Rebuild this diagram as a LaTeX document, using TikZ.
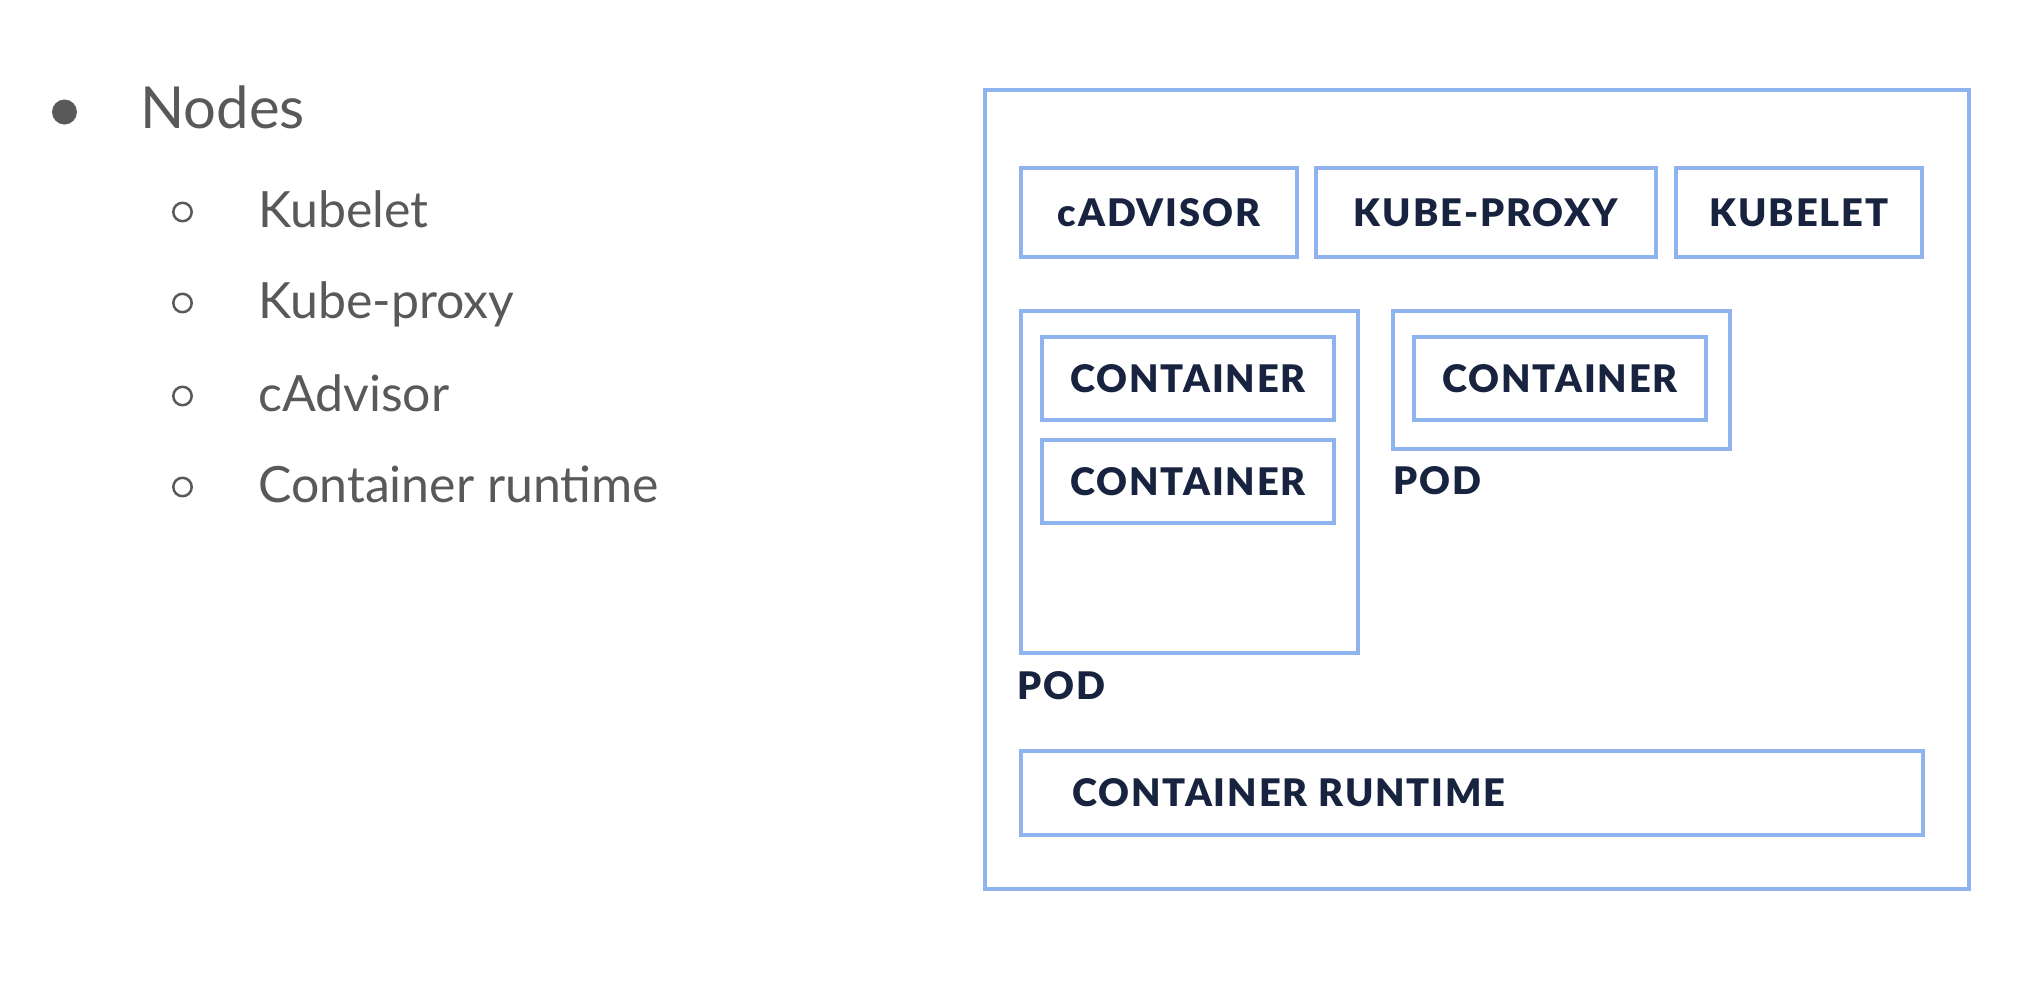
\documentclass[tikz,border=0pt]{standalone}
\usepackage{fontspec}
\setmainfont{Lato}
\newfontfamily\boxfont[LetterSpace=5]{Lato Black}
\definecolor{kblue}{HTML}{8FB3EE}
\definecolor{knavy}{HTML}{17233F}
\definecolor{kgray}{HTML}{595959}
\begin{document}
\begin{tikzpicture}[x=1pt,y=-1pt,
  kbox/.style={draw=kblue, line width=4pt, inner sep=0pt, anchor=north west,
    font=\boxfont\fontsize{38}{42}\selectfont, text=knavy},
  klabel/.style={inner sep=0pt, anchor=west,
    font=\boxfont\fontsize{38}{42}\selectfont, text=knavy},
  item/.style={inner sep=0pt, anchor=base west, text=kgray, font=\fontsize{50}{60}\selectfont},
  hollow/.style={draw=kgray, line width=2.5pt},
]
\useasboundingbox (0,0) rectangle (2018,980);
% left list
\fill[kgray] (64.5,112) circle (12.5);
\node[item, font=\fontsize{58}{68}\selectfont] (nodes) at (140,128) {Nodes};
\draw[hollow] (182.5,212) circle (9.2);
\node[item] (i1) at (258,227) {Kubelet};
\draw[hollow] (182.5,303) circle (9.2);
\node[item] (i2) at (258,318) {Kube-proxy};
\draw[hollow] (182.5,396) circle (9.2);
\node[item] (i3) at (258,411) {cAdvisor};
\draw[hollow] (182.5,487) circle (9.2);
\node[item] (i4) at (258,502) {Container runtime};
% diagram
\node[kbox, minimum width=984pt, minimum height=799pt] (outer) at (983,88) {};
\node[kbox, minimum width=276pt, minimum height=89pt] (cadv) at (1019,166) {cADVISOR};
\node[kbox, minimum width=340pt, minimum height=89pt] (kproxy) at (1314,166) {KUBE-PROXY};
\node[kbox, minimum width=246pt, minimum height=89pt] (kubelet) at (1674,166) {KUBELET};
\node[kbox, minimum width=337pt, minimum height=342pt] (pod1) at (1019,309) {};
\node[kbox, minimum width=292pt, minimum height=83pt] (c1) at (1040,335) {CONTAINER};
\node[kbox, minimum width=292pt, minimum height=83pt] (c2) at (1040,438) {CONTAINER};
\node[kbox, minimum width=337pt, minimum height=138pt] (pod2) at (1391,309) {};
\node[kbox, minimum width=292pt, minimum height=83pt] (c3) at (1412,335) {CONTAINER};
\node[klabel] (pod2lab) at (1393,481) {POD};
\node[klabel] (pod1lab) at (1017,686) {POD};
\node[kbox, minimum width=902pt, minimum height=84pt] (runtime) at (1019,749) {};
\node[klabel] (rtlab) at ([xshift=53pt]runtime.west) {CONTAINER RUNTIME};
\end{tikzpicture}
\end{document}
